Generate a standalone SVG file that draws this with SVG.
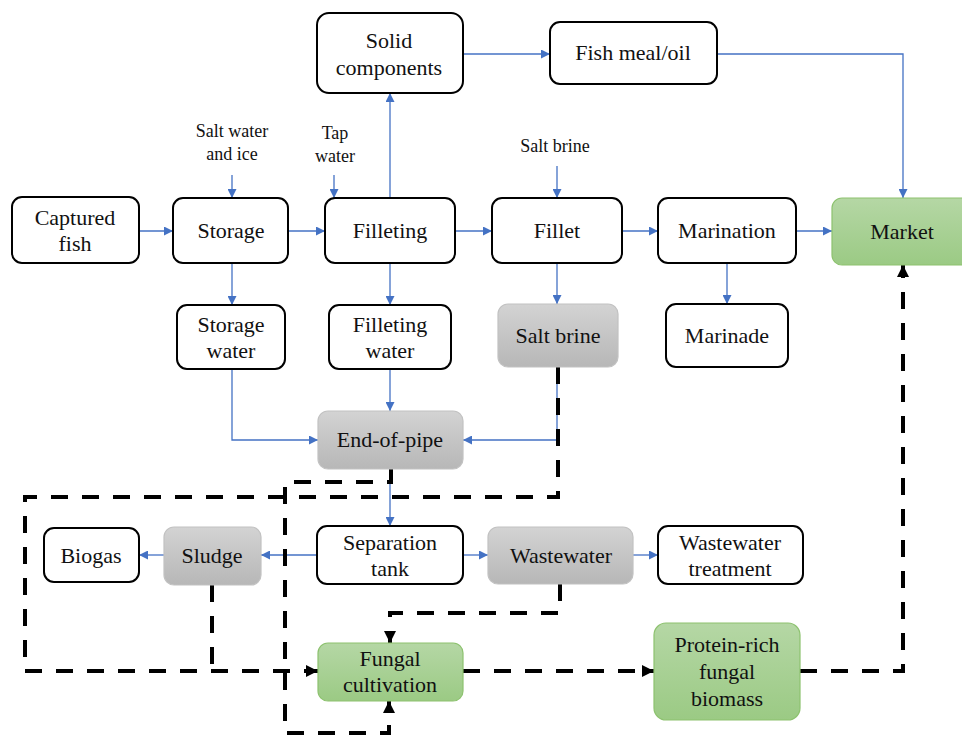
<svg xmlns="http://www.w3.org/2000/svg" width="962" height="735" viewBox="0 0 962 735" font-family="'Liberation Serif', 'DejaVu Serif', serif">
<defs>
<linearGradient id="gGray" x1="0" y1="0" x2="0" y2="1">
<stop offset="0" stop-color="#d3d3d3"/><stop offset="1" stop-color="#b7b7b7"/>
</linearGradient>
<linearGradient id="gGreen" x1="0" y1="0" x2="0" y2="1">
<stop offset="0" stop-color="#b5d7a5"/><stop offset="1" stop-color="#9bca84"/>
</linearGradient>
<marker id="ab" markerUnits="userSpaceOnUse" viewBox="0 0 10 10" markerWidth="11" markerHeight="9" refX="10" refY="5" orient="auto">
<path d="M0,0 L10,5 L0,10 z" fill="#4472C4"/>
</marker>
<marker id="ak" markerUnits="userSpaceOnUse" viewBox="0 0 10 10" markerWidth="13" markerHeight="12" refX="10" refY="5" orient="auto">
<path d="M0,0 L10,5 L0,10 z" fill="#000"/>
</marker>
<style>
.n rect{stroke:#000;stroke-width:2;fill:#fff}
.g rect{fill:url(#gGray);stroke:#c2c2c2;stroke-width:1.2}
.gr rect{fill:url(#gGreen);stroke:#8dc26f;stroke-width:1.2}
text{font-family:'Liberation Serif','DejaVu Serif',serif;font-size:22px;fill:#111;text-anchor:middle}
.s{font-size:18px}
.b{fill:none;stroke:#4472C4;stroke-width:1.3;marker-end:url(#ab)}
.d{fill:none;stroke:#000;stroke-width:4;stroke-dasharray:17 14}
.da{fill:none;stroke:#000;stroke-width:4;stroke-dasharray:17 14;marker-end:url(#ak)}
</style>
</defs>
<rect width="962" height="735" fill="#fff"/>

<g id="connectors">
<path class="b" d="M139,231 H173"/>
<path class="b" d="M288,231 H325"/>
<path class="b" d="M455,231 H492"/>
<path class="b" d="M622,231 H658"/>
<path class="b" d="M796,231 H832"/>
<path class="b" d="M232,175 V198"/>
<path class="b" d="M334,175 V198"/>
<path class="b" d="M557,166 V198"/>
<path class="b" d="M390,198 V93"/>
<path class="b" d="M463,54 H550"/>
<path class="b" d="M717,54 H903 V198"/>
<path class="b" d="M232,263 V305"/>
<path class="b" d="M390,263 V305"/>
<path class="b" d="M557,263 V304"/>
<path class="b" d="M727,263 V304"/>
<path class="b" d="M232,369 V440 H318"/>
<path class="b" d="M390,369 V411"/>
<path class="b" d="M557,367 V440 H463"/>
<path class="b" d="M390,469 V526"/>
<path class="b" d="M317,555 H261"/>
<path class="b" d="M164,555 H139"/>
<path class="b" d="M463,555 H488"/>
<path class="b" d="M633,555 H658"/>

<path class="da" d="M558,367 V497 H25 V671 H318"/>
<path class="d" d="M212,585 V671"/>
<path class="da" d="M391,469 V482 H285 V733 H389 V701"/>
<path class="da" d="M560,584 V613 H390 V643"/>
<path class="da" d="M463,671 H654"/>
<path class="da" d="M800,671 H903 V265"/>
</g>

<g id="lbl-saltwater"><text class="s" x="232" y="137">Salt water</text><text class="s" x="232" y="160">and ice</text></g>
<g id="lbl-tapwater"><text class="s" x="335" y="139">Tap</text><text class="s" x="335" y="162">water</text></g>
<g id="lbl-saltbrine"><text class="s" x="555" y="152">Salt brine</text></g>

<g id="captured" class="n"><rect x="12" y="197" width="127" height="66" rx="10"/><text x="75" y="225">Captured</text><text x="75" y="251">fish</text></g>
<g id="storage" class="n"><rect x="173" y="198" width="115" height="65" rx="10"/><text x="231" y="238">Storage</text></g>
<g id="filleting" class="n"><rect x="325" y="198" width="130" height="65" rx="10"/><text x="390" y="238">Filleting</text></g>
<g id="fillet" class="n"><rect x="492" y="198" width="130" height="65" rx="10"/><text x="557" y="238">Fillet</text></g>
<g id="marination" class="n"><rect x="658" y="198" width="138" height="65" rx="10"/><text x="727" y="238">Marination</text></g>
<g id="market" class="gr"><rect x="832" y="198" width="142" height="67" rx="10"/><text x="902" y="239">Market</text></g>
<g id="solid" class="n"><rect x="317" y="13" width="146" height="80" rx="12"/><text x="389" y="48">Solid</text><text x="389" y="75">components</text></g>
<g id="fishmeal" class="n"><rect x="550" y="22" width="167" height="62" rx="10"/><text x="633" y="60">Fish meal/oil</text></g>
<g id="storagewater" class="n"><rect x="177" y="305" width="108" height="64" rx="10"/><text x="231" y="332">Storage</text><text x="231" y="358">water</text></g>
<g id="filletingwater" class="n"><rect x="329" y="305" width="122" height="64" rx="10"/><text x="390" y="332">Filleting</text><text x="390" y="358">water</text></g>
<g id="saltbrine" class="g"><rect x="498" y="304" width="120" height="63" rx="10"/><text x="558" y="343">Salt brine</text></g>
<g id="marinade" class="n"><rect x="666" y="304" width="122" height="63" rx="10"/><text x="727" y="343">Marinade</text></g>
<g id="endofpipe" class="g"><rect x="318" y="411" width="145" height="58" rx="10"/><text x="390" y="447">End-of-pipe</text></g>
<g id="separation" class="n"><rect x="317" y="526" width="146" height="58" rx="10"/><text x="390" y="550">Separation</text><text x="390" y="576">tank</text></g>
<g id="sludge" class="g"><rect x="164" y="527" width="97" height="58" rx="10"/><text x="212" y="563">Sludge</text></g>
<g id="biogas" class="n"><rect x="44" y="528" width="95" height="54" rx="10"/><text x="91" y="563">Biogas</text></g>
<g id="wastewater" class="g"><rect x="488" y="527" width="145" height="57" rx="10"/><text x="561" y="563">Wastewater</text></g>
<g id="wwtreatment" class="n"><rect x="658" y="526" width="145" height="58" rx="10"/><text x="730" y="550">Wastewater</text><text x="730" y="576">treatment</text></g>
<g id="fungal" class="gr"><rect x="318" y="643" width="145" height="58" rx="10"/><text x="390" y="666">Fungal</text><text x="390" y="692">cultivation</text></g>
<g id="protein" class="gr"><rect x="654" y="623" width="146" height="97" rx="12"/><text x="727" y="652">Protein-rich</text><text x="727" y="679">fungal</text><text x="727" y="706">biomass</text></g>
</svg>
